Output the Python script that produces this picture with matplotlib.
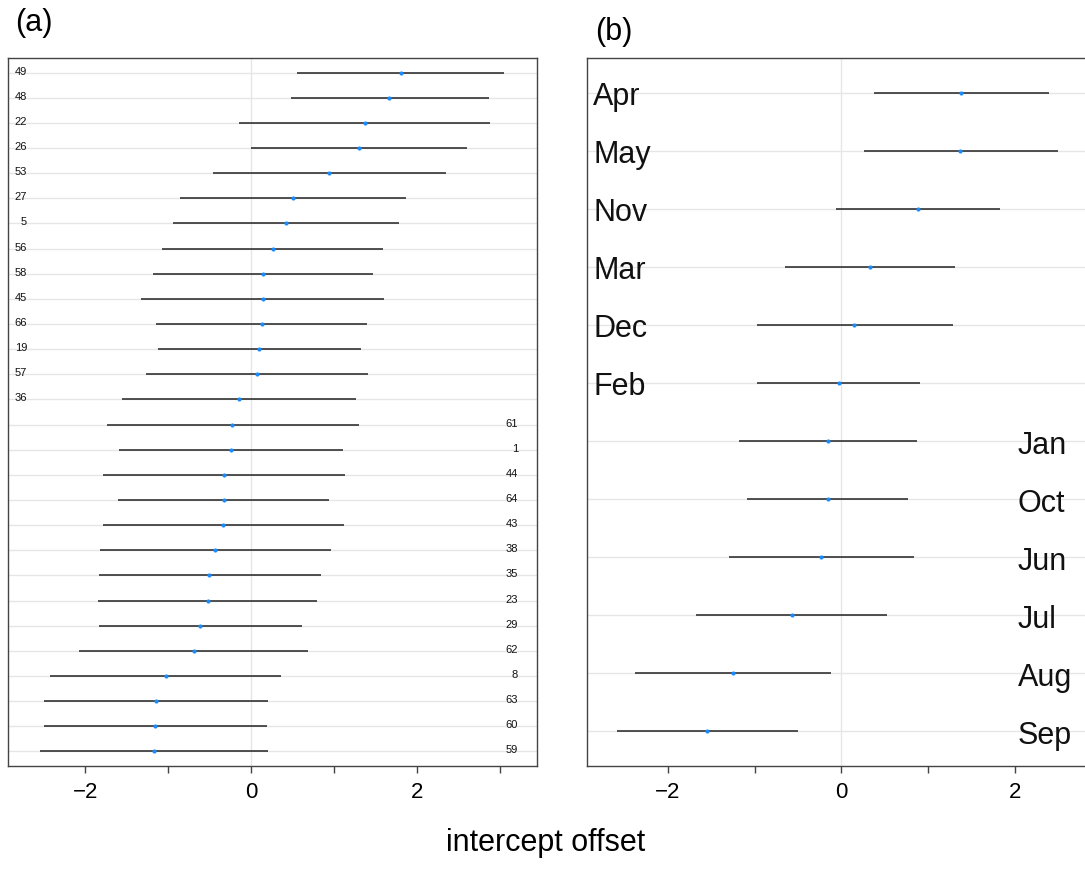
import numpy as np
import matplotlib
matplotlib.use("Agg")
import matplotlib.pyplot as plt
from matplotlib.ticker import FixedLocator

plt.rcParams["font.family"] = ["Liberation Sans", "DejaVu Sans"]

# (a) site random intercepts, ordered top to bottom
site_ids = ["49", "48", "22", "26", "53", "27", "5", "56", "58", "45", "66", "19", "57", "36",
            "61", "1", "44", "64", "43", "38", "35", "23", "29", "62", "8", "63", "60", "59"]
site_est = [1.81, 1.67, 1.37, 1.30, 0.94, 0.51, 0.42, 0.26, 0.15, 0.14, 0.13, 0.10, 0.07, -0.14,
            -0.23, -0.24, -0.32, -0.33, -0.34, -0.43, -0.50, -0.52, -0.61, -0.69, -1.03, -1.15, -1.16, -1.17]
site_lo = [0.56, 0.48, -0.14, 0.00, -0.46, -0.85, -0.94, -1.07, -1.18, -1.33, -1.15, -1.12, -1.27, -1.55,
           -1.74, -1.59, -1.79, -1.60, -1.79, -1.82, -1.83, -1.85, -1.83, -2.07, -2.42, -2.50, -2.50, -2.55]
site_hi = [3.05, 2.87, 2.88, 2.60, 2.35, 1.87, 1.78, 1.59, 1.47, 1.61, 1.40, 1.33, 1.41, 1.27,
           1.30, 1.11, 1.14, 0.94, 1.12, 0.96, 0.84, 0.80, 0.61, 0.69, 0.36, 0.20, 0.19, 0.21]

# (b) month random intercepts
months = ["Apr", "May", "Nov", "Mar", "Dec", "Feb", "Jan", "Oct", "Jun", "Jul", "Aug", "Sep"]
month_est = [1.38, 1.37, 0.88, 0.33, 0.15, -0.03, -0.15, -0.16, -0.23, -0.57, -1.25, -1.55]
month_lo = [0.37, 0.26, -0.06, -0.65, -0.97, -0.97, -1.18, -1.09, -1.30, -1.67, -2.38, -2.59]
month_hi = [2.39, 2.49, 1.83, 1.31, 1.28, 0.91, 0.87, 0.77, 0.84, 0.53, -0.12, -0.50]

XLIM = (-2.93, 3.45)
W, H = 1085, 870
GRID = "#e6e6e6"
SPINE = "#444444"
BLUE = "#1a8cff"


def caterpillar(ax, labels, est, lo, hi, pad, fs, left_x, right_x, left_ha, right_ha, dy):
    n = len(labels)
    y = np.arange(n)[::-1]
    ax.set_xlim(*XLIM)
    ax.set_ylim(-pad, n - 1 + pad)
    for yy in y:
        ax.axhline(yy, color=GRID, lw=1.0, zorder=0)
    ax.axvline(0, color=GRID, lw=1.0, zorder=0)
    ax.hlines(y, lo, hi, color="#222222", lw=1.1, zorder=2)
    ax.plot(est, y, "o", color=BLUE, ms=3.0, mec="none", zorder=3)
    # top half labelled on the left, bottom half on the right
    half = n // 2
    for i, (lab, yy) in enumerate(zip(labels, y)):
        if i < half:
            ax.text(left_x, yy + dy, lab, ha=left_ha, va="center_baseline", fontsize=fs, color="#111111")
        else:
            ax.text(right_x, yy + dy, lab, ha=right_ha, va="center_baseline", fontsize=fs, color="#111111")
    ax.set_yticks([])
    ax.xaxis.set_major_locator(FixedLocator([-2, 0, 2]))
    ax.xaxis.set_minor_locator(FixedLocator([-1, 1, 3]))
    ax.tick_params(axis="x", which="both", direction="out", length=5, width=1.0,
                   color=SPINE, labelsize=16, pad=6)
    for s in ax.spines.values():
        s.set_color(SPINE)
        s.set_linewidth(1.0)


fig = plt.figure(figsize=(W / 100, H / 100), dpi=100)

ax_a = fig.add_axes([8 / W, (H - 767) / H, 529 / W, 708 / H])
caterpillar(ax_a, site_ids, site_est, site_lo, site_hi, 0.58, 8,
            -2.70, 3.22, "right", "right", 0.12)

# panel (b) runs past the right edge of the figure, as in the original
ax_b = fig.add_axes([587 / W, (H - 767) / H, 554 / W, 708 / H])
caterpillar(ax_b, months, month_est, month_lo, month_hi, 0.6, 22,
            -2.86, 2.03, "left", "left", 0.0)

fig.text(34 / W, 1 - 23 / H, "(a)", fontsize=22, ha="center", va="center")
fig.text(614 / W, 1 - 32 / H, "(b)", fontsize=22, ha="center", va="center")
fig.text(546 / W, 1 - 843 / H, "intercept offset", fontsize=22, ha="center", va="center")

fig.savefig("out.png", dpi=100)
